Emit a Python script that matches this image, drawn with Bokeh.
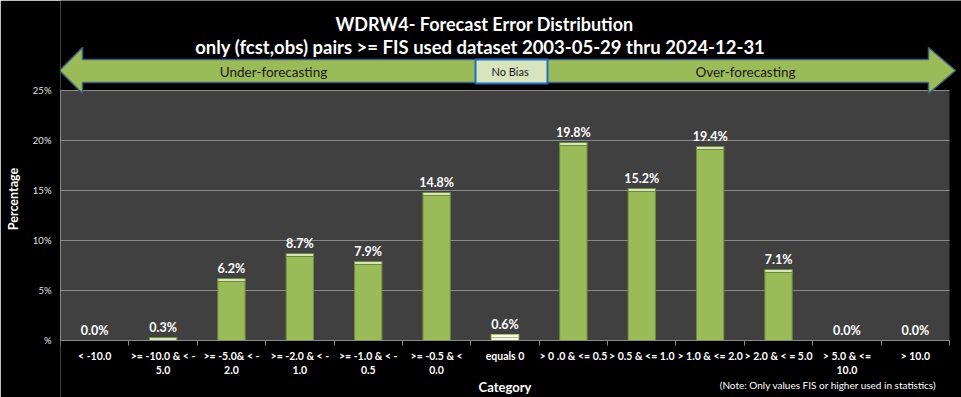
import numpy as np
from bokeh.plotting import figure
from bokeh.models import Range1d, FixedTicker
from bokeh.core.properties import value
from bokeh.embed import file_html
from bokeh.resources import INLINE

# ---------------- data ----------------
categories = [
    "< -10.0",
    ">= -10.0 & < -\n5.0",
    ">= -5.0& < -\n2.0",
    ">= -2.0 & < -\n1.0",
    ">= -1.0 & < -\n0.5",
    ">= -0.5 & <\n0.0",
    "equals 0",
    "> 0 .0 & <= 0.5",
    "> 0.5 & <= 1.0",
    "> 1.0 & <= 2.0",
    "> 2.0 & < = 5.0",
    "> 5.0 & <=\n10.0",
    "> 10.0",
]
percentages = [0.0, 0.3, 6.2, 8.7, 7.9, 14.8, 0.6, 19.8, 15.2, 19.4, 7.1, 0.0, 0.0]
y_ticks = [0, 5, 10, 15, 20, 25]
y_tick_labels = ["%", "5%", "10%", "15%", "20%", "25%"]
title_line1 = "WDRW4- Forecast Error Distribution"
title_line2 = "only (fcst,obs) pairs >= FIS used dataset 2003-05-29  thru 2024-12-31"
arrow_left_text = "Under-forecasting"
arrow_mid_text = "No  Bias"
arrow_right_text = "Over-forecasting"
note_text = "(Note: Only values FIS or higher used in statistics)"
x_title = "Category"
y_title = "Percentage"

# ---------------- layout helpers (page pixel -> data) ----------------
N = len(categories)
YMAX = 25
FL, FR, FT, FB = 60, 949, 90, 340      # plot area edges in page pixels
W, H = 961, 397
CW = (FR - FL) / N
PPU = (FB - FT) / YMAX


def X(px):
    return (px - FL) / CW - 0.5


def Y(py):
    return (FB - py) / PPU


FONT = value("Lato")
GREEN = "#9BBB59"
AXC = "#8A8A8A"

idx = np.arange(N)
vals = np.array(percentages)
mask = vals > 0

p = figure(
    width=W, height=H,
    x_range=Range1d(-0.5, X(W)),
    y_range=Range1d(Y(H), Y(0)),
    output_backend="svg", toolbar_location=None,
    min_border_left=FL, min_border_right=0,
    min_border_top=0, min_border_bottom=0,
    background_fill_color="black", border_fill_color="black",
    outline_line_color=None,
)

# plot area
p.quad(left=-0.5, right=N - 0.5, bottom=0, top=YMAX,
       fill_color="#404040", line_color=None, level="image")

# grid
p.xgrid.visible = False
yg = p.ygrid[0]
yg.ticker = FixedTicker(ticks=y_ticks)
yg.grid_line_color = AXC
yg.grid_line_width = 1
if "cross_bounds" in yg.properties():
    yg.cross_bounds = (-0.5, N - 0.5)

# y axis
ya = p.yaxis[0]
ya.ticker = FixedTicker(ticks=y_ticks)
ya.major_label_overrides = {t: l for t, l in zip(y_ticks, y_tick_labels)}
ya.bounds = (0, YMAX)
ya.axis_line_color = AXC
ya.major_tick_line_color = None
ya.major_tick_in = 0
ya.major_tick_out = 0
ya.minor_tick_line_color = None
ya.major_label_text_color = "#E0E0E0"
ya.major_label_text_font = "Lato"
ya.major_label_text_font_size = "9.5px"
ya.major_label_standoff = 9
ya.axis_label = y_title
ya.axis_label_text_color = "white"
ya.axis_label_text_font = "Lato"
ya.axis_label_text_font_style = "bold"
ya.axis_label_text_font_size = "12.5px"
ya.axis_label_standoff = 9

# x axis
xa = p.xaxis[0]
xa.fixed_location = 0
xa.bounds = (-0.5, N - 0.5)
xa.ticker = FixedTicker(ticks=list(idx), minor_ticks=list(np.arange(N + 1) - 0.5))
xa.major_label_overrides = {int(i): c for i, c in zip(idx, categories)}
xa.axis_line_color = AXC
xa.major_tick_line_color = None
xa.major_tick_out = 0
xa.major_tick_in = 0
xa.minor_tick_line_color = AXC
xa.minor_tick_out = 5
xa.minor_tick_in = 0
xa.major_label_text_color = "white"
xa.major_label_text_font = "Lato"
xa.major_label_text_font_style = "bold"
xa.major_label_text_font_size = "10.5px"
xa.major_label_standoff = 4
xa.axis_label = x_title
xa.axis_label_text_color = "white"
xa.axis_label_text_font = "Lato"
xa.axis_label_text_font_style = "bold"
xa.axis_label_text_font_size = "13px"
xa.axis_label_standoff = 0

# bars
colors = np.array(["#F2F5EA" if c == "equals 0" else GREEN for c in categories])
edges = np.array(["#A9C46C" if c == "equals 0" else "#6E8B3D" for c in categories])
p.vbar(x=idx[mask], top=vals[mask], width=0.4, fill_color=list(colors[mask]),
       line_color=list(edges[mask]), line_width=1)
hl = np.array(["#FFFFFF" if c == "equals 0" else "#D7E4BD" for c in categories])
p.vbar(x=idx[mask], top=vals[mask], bottom=np.maximum(vals[mask] - 0.3, 0), width=0.4,
       fill_color=list(hl[mask]), line_color=list(edges[mask]), line_width=1)

# value labels
p.text(x=idx, y=vals, text=[f"{v:.1f}%" for v in percentages],
       text_align="center", text_baseline="alphabetic", y_offset=-10,
       text_color="white", text_font=FONT, text_font_style="bold",
       text_font_size="12.5px")

# double arrow
ax_ = [59, 82, 82, 928, 928, 955, 928, 928, 82, 82]
ay_ = [70, 47, 59, 59, 47, 70, 93, 82, 82, 93]
p.patch(x=[X(a) for a in ax_], y=[Y(b) for b in ay_],
        fill_color=GREEN, line_color="#3F5F80", line_width=1.5)
p.quad(left=X(475), right=X(547), top=Y(59), bottom=Y(83),
       fill_color="#D7E4BD", line_color="#1F6EC0", line_width=2)
p.text(x=[X(273), X(511), X(745)], y=[Y(71)] * 3,
       text=[arrow_left_text, arrow_mid_text, arrow_right_text],
       text_align="center", text_baseline="middle", text_color="#1A1A1A",
       text_font=FONT, text_font_size=["13.5px", "11px", "13.5px"])

# titles
p.text(x=[X(484), X(482)], y=[Y(23), Y(46)], text=[title_line1, title_line2],
       text_align="center", text_baseline="middle", text_color="white",
       text_font=FONT, text_font_style="bold", text_font_size=["18px", "18.5px"])

# note
p.text(x=[X(936)], y=[Y(384)], text=[note_text], text_align="right",
       text_baseline="middle", text_color="white", text_font=FONT,
       text_font_size="10px")

open("out.html", "w").write(file_html(p, INLINE))
